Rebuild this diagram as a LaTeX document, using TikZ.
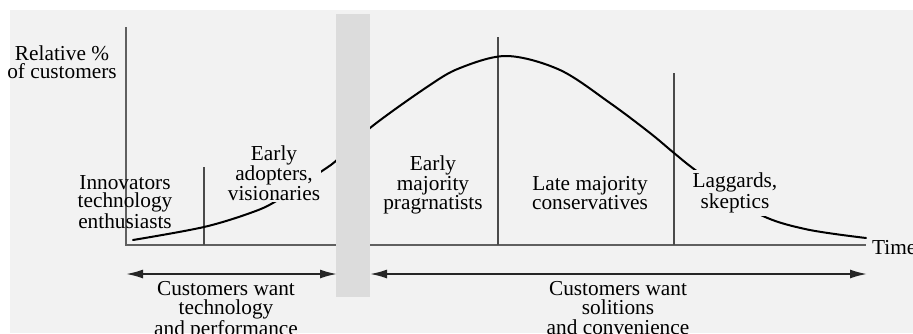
\documentclass[tikz,border=0pt]{standalone}
\usepackage{fontspec}
\setmainfont{Liberation Serif}
\usetikzlibrary{arrows.meta}
\definecolor{bg}{HTML}{F2F2F2}
\definecolor{band}{HTML}{DCDCDC}
\definecolor{axisc}{HTML}{606060}
\definecolor{divc}{HTML}{4A4A4A}
\begin{document}
\begin{tikzpicture}[x=1pt,y=-1pt,
  lbl/.style={font=\fontsize{21.3}{18.5}\selectfont, align=center, inner sep=1pt},
  lblfill/.style={lbl, fill=bg},
  lowlbl/.style={font=\fontsize{21.3}{19.5}\selectfont, align=center, inner sep=0pt, anchor=north},
  axisline/.style={draw=axisc, line width=1.4pt},
  divider/.style={draw=divc, line width=1.1pt},
  curveline/.style={draw=black, line width=2pt, line cap=round},
  span/.style={draw=black!85, line width=1.8pt, {Latex[length=17pt,width=9pt]}-{Latex[length=17pt,width=9pt]}}]
\useasboundingbox (0,0) rectangle (913,333);
\fill[bg] (10,10) rectangle (913,333);
% axes
\coordinate (o) at (126,245);
\coordinate (ytop) at (126,27);
\coordinate (xend) at (866,245);
\draw[axisline] (ytop) -- (o) -- (xend);
% dividers
\coordinate (d1b) at (204,245); \coordinate (d1t) at (204,167);
\coordinate (d2b) at (498,245); \coordinate (d2t) at (498,37);
\coordinate (d3b) at (674,245); \coordinate (d3t) at (674,73);
\draw[divider] (d1b) -- (d1t);
\draw[divider] (d2b) -- (d2t);
\draw[divider] (d3b) -- (d3t);
% curve
\draw[curveline] plot[smooth, tension=0.55] coordinates {
 (133,240) (204,227) (253,212) (278,200) (322,171) (338,159) (370,128) (427,87) (460,68) (507,56) (560,70) (610,103) (650,133) (674,153) (698,172) (757,213) (805,229) (866,238)};
% labels covering parts of the curve
\node[lbl] (yl) at (62,62) {Relative \%\\of customers};
\node[lbl] (inn) at (125,202) {Innovators\\technology\\enthusiasts};
\node[lblfill] (ea) at (274,173) {Early\\adopters,\\visionaries};
\node[lbl] (em) at (433,185) {Early\\majority\\pragrnatists};
\node[lbl] (lm) at (590,193) {Late majority\\conservatives};
\node[lblfill, inner xsep=4pt, inner ysep=3pt] (lg) at (735,193) {Laggards,\\skeptics};
\node[lbl, anchor=west] (time) at (871,248) {Time};
% chasm band
\fill[band] (336,14) rectangle (370,297);
% spans
\coordinate (a1l) at (126,274); \coordinate (a1r) at (337,274);
\coordinate (a2l) at (370,274); \coordinate (a2r) at (867,274);
\draw[span] (a1l) -- (a1r);
\draw[span] (a2l) -- (a2r);
\node[lowlbl] (c1) at (226,281) {Customers want\\technology\\and performance};
\node[lowlbl] (c2) at (618,281) {Customers want\\solitions\\and convenience};
\end{tikzpicture}
\end{document}
